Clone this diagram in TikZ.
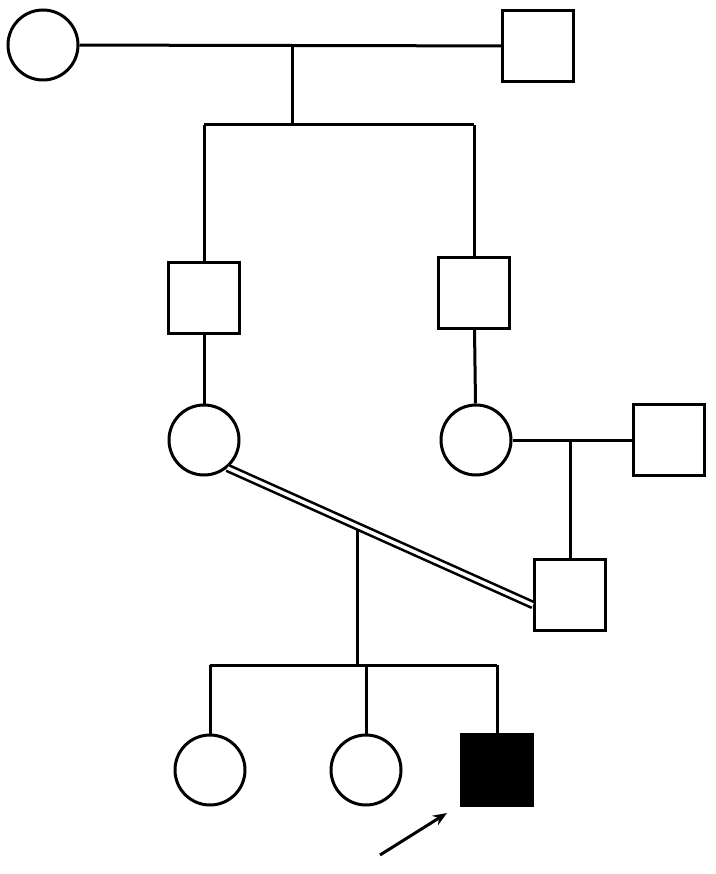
\documentclass[tikz,border=0pt]{standalone}
\usetikzlibrary{calc,arrows.meta}
\begin{document}
\begin{tikzpicture}[x=1pt,y=-1pt,line width=3pt,
  fem/.style={circle,draw,minimum size=70pt,inner sep=0pt},
  mal/.style={rectangle,draw,minimum size=71pt,inner sep=0pt},
  aff/.style={mal,fill=black}]
\useasboundingbox (0,0) rectangle (715,874);
\node[fem] (g1f) at (43,45) {};
\node[mal] (g1m) at (538,46) {};
\node[mal] (g2a) at (204,298) {};
\node[mal] (g2b) at (474,293) {};
\node[fem] (g3a) at (204,440) {};
\node[fem] (g3b) at (476,440) {};
\node[mal] (g3c) at (669,440) {};
\node[mal] (g4a) at (570,595) {};
\node[fem] (c1) at (210,770) {};
\node[fem] (c2) at (366,770) {};
\node[aff] (c3) at (497,770) {};
\draw (g1f) -- (g1m);
\coordinate (d1) at (292,45);
\coordinate (s1) at (292,125);
\draw (d1) -- (s1);
\draw (g2a.north|-s1) -- (g2b.north|-s1);
\draw (g2a.north|-s1) -- (g2a.north);
\draw (g2b.north|-s1) -- (g2b.north);
\draw (g2a) -- (g3a);
\draw (g2b) -- (g3b);
\draw (g3b) -- (g3c);
\draw (g4a.north|-g3c) -- (g4a.north);
\draw[double=white,double distance=3.5pt,line width=2.6pt] (g3a.-50) -- (g4a.west|-0,605);
\coordinate (d2) at (357,530);
\coordinate (s2) at (357,665);
\draw (d2) -- (s2);
\draw (c1.north|-s2) -- (c3.north|-s2);
\draw (c1.north|-s2) -- (c1.north);
\draw (c2.north|-s2) -- (c2.north);
\draw (c3.north|-s2) -- (c3.north);
\coordinate (ar0) at (380,855);
\coordinate (ar1) at (447,813);
\draw[-{Stealth[length=14pt,width=11pt]}] (ar0) -- (ar1);
\end{tikzpicture}
\end{document}
